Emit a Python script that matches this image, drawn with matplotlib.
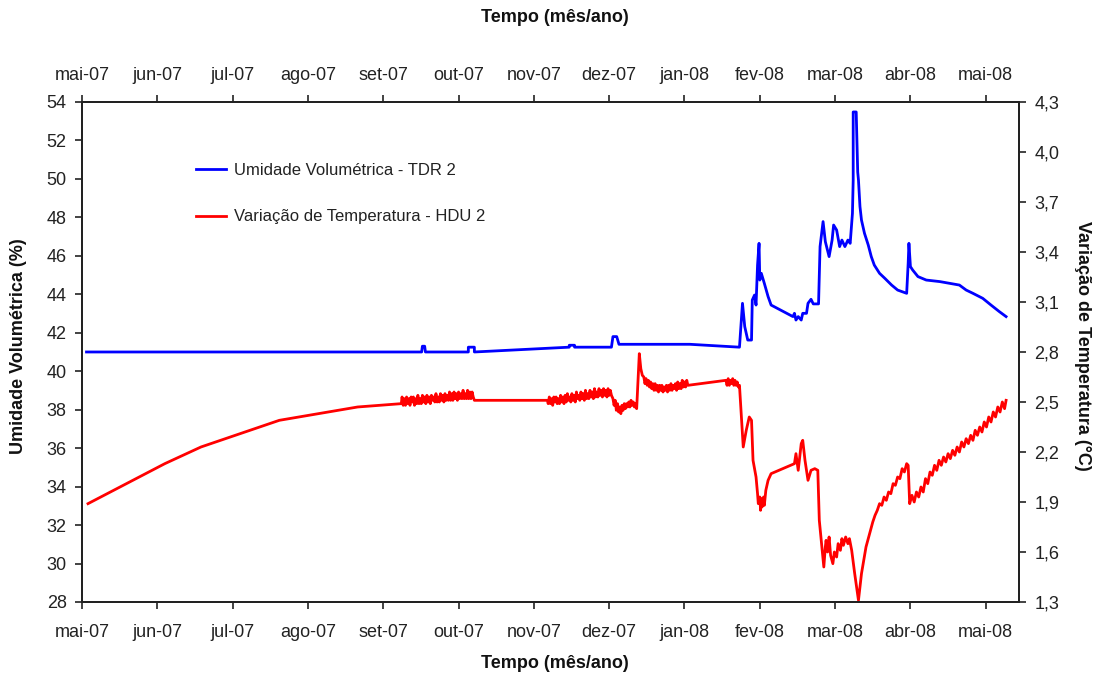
import matplotlib
matplotlib.use("Agg")
import matplotlib.pyplot as plt
import numpy as np
from matplotlib.ticker import FixedLocator, FuncFormatter, MultipleLocator

plt.rcParams['font.family'] = ['Liberation Sans', 'DejaVu Sans']

# Month labels (x axis is measured in months since May 2007)
month_labels = ["mai-07", "jun-07", "jul-07", "ago-07", "set-07", "out-07", "nov-07",
                "dez-07", "jan-08", "fev-08", "mar-08", "abr-08", "mai-08"]

# Volumetric water content - TDR 2 (%)
tdr_t = [0.06, 4.51, 4.52, 4.55, 4.56, 5.13, 5.13, 5.21, 5.21, 6.47, 6.47, 6.54, 6.54,
         7.03, 7.05, 7.10, 7.13, 8.07, 8.73, 8.77, 8.80, 8.84, 8.89, 8.90, 8.93, 8.95,
         8.97, 8.99, 9.00, 9.02, 9.06, 9.11, 9.15, 9.44, 9.46, 9.48, 9.51, 9.55, 9.57,
         9.62, 9.64, 9.68, 9.71, 9.78, 9.80, 9.84, 9.87, 9.92, 9.96, 9.98, 10.02, 10.06,
         10.09, 10.13, 10.17, 10.20, 10.23, 10.24, 10.24, 10.28, 10.30, 10.31, 10.33,
         10.35, 10.39, 10.44, 10.48, 10.52, 10.59, 10.66, 10.75, 10.83, 10.95, 10.97,
         10.98, 11.00, 11.03, 11.10, 11.21, 11.39, 11.65, 11.74, 11.83, 11.96, 12.07,
         12.18, 12.27]
tdr_v = [41.00, 41.00, 41.30, 41.30, 41.00, 41.00, 41.25, 41.25, 41.00, 41.25, 41.35,
         41.35, 41.25, 41.25, 41.80, 41.80, 41.40, 41.40, 41.25, 43.53, 42.32, 41.62,
         41.62, 43.70, 43.96, 43.44, 45.52, 46.65, 44.74, 45.09, 44.57, 43.88, 43.44,
         42.84, 43.01, 42.66, 42.84, 42.66, 43.01, 43.01, 43.53, 43.74, 43.50, 43.50,
         46.48, 47.78, 46.74, 45.96, 46.82, 47.60, 47.34, 46.48, 46.82, 46.48, 46.82,
         46.65, 48.21, 49.94, 53.48, 53.48, 50.36, 49.94, 48.56, 47.86, 47.17, 46.56,
         45.96, 45.52, 45.09, 44.83, 44.48, 44.22, 44.05, 45.61, 46.65, 45.44, 45.26,
         44.92, 44.74, 44.66, 44.48, 44.22, 44.05, 43.79, 43.44, 43.10, 42.84]

# Temperature variation - HDU 2 (degrees C)
# Sparse readings (explicit times)
hdu_early_t = [0.08, 1.10, 1.58, 2.62, 3.66, 4.24]
hdu_early_v = [1.89, 2.13, 2.23, 2.39, 2.47, 2.49]

# Densely logged stretches, sampled every 0.015 month from the given start
dense_step = 0.015
hdu_sep_start = 4.25
hdu_sep_v = [2.53, 2.48, 2.52, 2.48, 2.53, 2.49, 2.52, 2.48, 2.53, 2.50, 2.53, 2.48,
             2.52, 2.49, 2.54, 2.49, 2.52, 2.49, 2.54, 2.50, 2.53, 2.49, 2.54, 2.50,
             2.53, 2.49, 2.54, 2.51, 2.53, 2.50, 2.55, 2.50, 2.53, 2.50, 2.55, 2.51,
             2.54, 2.50, 2.55, 2.51, 2.54, 2.51, 2.56, 2.51, 2.55, 2.51, 2.56, 2.52,
             2.55, 2.51, 2.56, 2.52, 2.55, 2.52, 2.57, 2.52, 2.55, 2.52, 2.57, 2.52,
             2.56, 2.52, 2.56, 2.53, 2.51]
hdu_gap1_t = [5.22, 6.18]
hdu_gap1_v = [2.51, 2.51]
hdu_nov_start = 6.19
hdu_nov_v = [2.49, 2.53, 2.49, 2.52, 2.48, 2.53, 2.50, 2.53, 2.49, 2.52, 2.49, 2.54,
             2.50, 2.53, 2.49, 2.54, 2.50, 2.55, 2.51, 2.53, 2.50, 2.55, 2.51, 2.54,
             2.50, 2.56, 2.52, 2.54, 2.51, 2.56, 2.52, 2.55, 2.51, 2.57, 2.52, 2.55,
             2.52, 2.57, 2.53, 2.56, 2.52, 2.58, 2.53, 2.56, 2.53, 2.58, 2.54, 2.57,
             2.53, 2.58, 2.54, 2.57, 2.53, 2.58, 2.54, 2.57, 2.54]
hdu_dec_start = 7.05
hdu_dec_v = [2.52, 2.48, 2.51, 2.45, 2.49, 2.44, 2.47, 2.43, 2.48, 2.45, 2.49, 2.46,
             2.49, 2.47, 2.50, 2.47, 2.51, 2.48, 2.50, 2.47, 2.49, 2.46]
hdu_peak_t = [7.40, 7.42, 7.44]
hdu_peak_v = [2.79, 2.70, 2.66]
hdu_jan_start = 7.46
hdu_jan_v = [2.65, 2.61, 2.64, 2.60, 2.63, 2.59, 2.62, 2.58, 2.61, 2.57, 2.61, 2.57,
             2.60, 2.56, 2.60, 2.57, 2.60, 2.56, 2.59, 2.57, 2.60, 2.56, 2.60, 2.57,
             2.61, 2.57, 2.60, 2.58, 2.61, 2.57, 2.62, 2.58, 2.61, 2.58, 2.63, 2.59,
             2.62, 2.59, 2.63, 2.60]
hdu_feb_start = 8.55
hdu_feb_v = [2.63, 2.60, 2.64, 2.60, 2.63, 2.61, 2.64, 2.60, 2.63, 2.60, 2.62, 2.59,
             2.60]
hdu_late_t = [8.78, 8.82, 8.86, 8.89, 8.91, 8.95, 8.97, 8.98, 9.00, 9.01, 9.02, 9.03,
              9.05, 9.06, 9.08, 9.11, 9.15, 9.46,
              9.48, 9.51, 9.55, 9.57, 9.60, 9.64, 9.68, 9.73, 9.77, 9.79, 9.82, 9.85,
              9.87, 9.88, 9.90, 9.92, 9.94, 9.97, 9.99, 10.02, 10.04, 10.07, 10.09,
              10.11, 10.14, 10.17, 10.19, 10.22, 10.26, 10.31, 10.35,
              10.38, 10.41, 10.44, 10.47, 10.50, 10.53, 10.56, 10.59, 10.62, 10.65,
              10.68, 10.71, 10.74, 10.77, 10.80, 10.83, 10.86, 10.89, 10.92, 10.95,
              10.97, 10.99,
              11.02, 11.05, 11.08, 11.11, 11.14, 11.17, 11.20, 11.23, 11.26, 11.29,
              11.32, 11.35, 11.38, 11.41, 11.44, 11.47, 11.50, 11.53, 11.56, 11.59,
              11.62, 11.65, 11.68, 11.71, 11.74, 11.77, 11.80, 11.83, 11.86, 11.89,
              11.92, 11.95, 11.98, 12.01, 12.04, 12.07, 12.10, 12.13, 12.16, 12.19,
              12.22, 12.25, 12.27]
hdu_late_v = [2.23, 2.33, 2.41, 2.39, 2.15, 2.05, 1.95, 1.89, 1.93, 1.85, 1.92, 1.87,
              1.93, 1.88, 1.97, 2.03, 2.07, 2.13,
              2.19, 2.09, 2.25, 2.27, 2.15, 2.03, 2.09, 2.10, 2.09, 1.79, 1.65, 1.51,
              1.63, 1.67, 1.60, 1.69, 1.58, 1.53, 1.60, 1.57, 1.65, 1.61, 1.68,
              1.64, 1.69, 1.65, 1.68, 1.61, 1.47, 1.31, 1.47,
              1.55, 1.63, 1.68, 1.73, 1.78, 1.82, 1.85, 1.89, 1.88, 1.93,
              1.91, 1.96, 1.95, 2.01, 2.00, 2.05, 2.04, 2.10, 2.08, 2.13,
              2.12, 1.89,
              1.94, 1.90, 1.96, 1.93, 1.99, 1.96, 2.04, 2.01, 2.08, 2.06,
              2.12, 2.09, 2.15, 2.12, 2.17, 2.14, 2.19, 2.16, 2.21, 2.18,
              2.23, 2.20, 2.26, 2.23, 2.28, 2.25, 2.30, 2.27, 2.33, 2.30,
              2.35, 2.32, 2.38, 2.35, 2.41, 2.38, 2.44, 2.41, 2.47, 2.44,
              2.50, 2.46, 2.51]


def dense(start, values):
    return list(start + dense_step * np.arange(len(values)))


hdu_t = (hdu_early_t + dense(hdu_sep_start, hdu_sep_v) + hdu_gap1_t
         + dense(hdu_nov_start, hdu_nov_v) + dense(hdu_dec_start, hdu_dec_v)
         + hdu_peak_t + dense(hdu_jan_start, hdu_jan_v)
         + dense(hdu_feb_start, hdu_feb_v) + hdu_late_t)
hdu_v = (hdu_early_v + hdu_sep_v + hdu_gap1_v + hdu_nov_v + hdu_dec_v
         + hdu_peak_v + hdu_jan_v + hdu_feb_v + hdu_late_v)

fig = plt.figure(figsize=(10.99, 6.78), dpi=100)
ax = fig.add_axes([0.0746, 0.1121, 0.8525, 0.7375])
ax2 = ax.twinx()

axis_color = "#222222"
text_color = "#222222"

l1, = ax.plot(tdr_t, tdr_v, color="#0000FF", lw=2.0, label="Umidade Volumétrica - TDR 2")
l2, = ax2.plot(hdu_t, hdu_v, color="#FF0000", lw=2.0, label="Variação de Temperatura - HDU 2")

ax.set_xlim(0, 12.44)
ax.set_ylim(28, 54)
ax.yaxis.set_major_locator(MultipleLocator(2))
ax2.set_ylim(1.3, 4.3)
ax2.yaxis.set_major_locator(FixedLocator([1.3 + 0.3 * i for i in range(11)]))
ax2.yaxis.set_major_formatter(FuncFormatter(lambda v, p: f"{v:.1f}".replace(".", ",")))

ticks = list(range(len(month_labels)))
ax.set_xticks(ticks)
ax.set_xticklabels(month_labels)

# Month ticks repeated on the top edge
top = ax.secondary_xaxis('top')
top.set_xticks(ticks)
top.set_xticklabels(month_labels)

for a in (ax, ax2):
    for s in a.spines.values():
        s.set_color(axis_color)
        s.set_linewidth(1.4)

ax.tick_params(axis='x', direction='out', length=5, width=1.2, pad=11,
               labelsize=13, colors=axis_color, labelcolor=text_color)
top.tick_params(axis='x', direction='out', length=5, width=1.2, pad=8,
                labelsize=13, colors=axis_color, labelcolor=text_color)
top.spines['top'].set_color(axis_color)
top.spines['top'].set_linewidth(1.4)
ax.tick_params(axis='y', direction='out', length=5, width=1.2, pad=6,
               labelsize=13, colors=axis_color, labelcolor=text_color)
ax2.tick_params(axis='y', direction='out', length=5, width=1.2, pad=6,
                labelsize=13, colors=axis_color, labelcolor=text_color)

fig.text(0.505, 0.974, "Tempo (mês/ano)", ha='center', va='center',
         fontsize=13, fontweight='bold', color="#111111")
fig.text(0.505, 0.022, "Tempo (mês/ano)", ha='center', va='center',
         fontsize=13, fontweight='bold', color="#111111")
fig.text(0.017, 0.49, "Umidade Volumétrica (%)", ha='center', va='center',
         rotation=90, fontsize=13, fontweight='bold', color="#111111")
fig.text(0.985, 0.49, "Variação de Temperatura (°C)", ha='center', va='center',
         rotation=270, fontsize=13, fontweight='bold', color="#111111")

ax.legend(handles=[l1, l2], loc='upper left', bbox_to_anchor=(0.113, 0.895),
          frameon=False, fontsize=12, borderpad=0, labelspacing=1.9,
          handlelength=1.8, handletextpad=0.45, labelcolor=text_color)

fig.savefig("out.png", dpi=100)
